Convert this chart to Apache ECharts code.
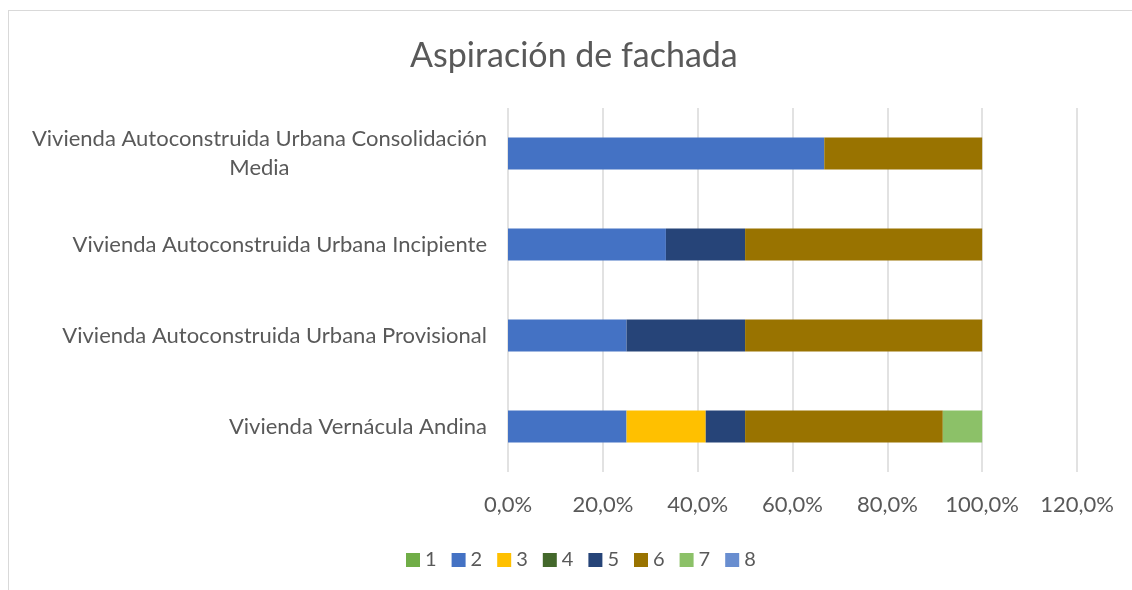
<!DOCTYPE html>
<html>
<head>
<meta charset="utf-8">
<script src="https://cdn.jsdelivr.net/npm/echarts@6/dist/echarts.min.js"></script>
<style>
  html, body { margin: 0; padding: 0; background: #fff; }
  #frame {
    position: absolute; left: 8px; top: 10px; width: 1140px; height: 600px;
    border-left: 1px solid #d9d9d9; border-top: 1px solid #d9d9d9;
  }
  #chart { position: absolute; left: 0; top: 0; width: 1132px; height: 590px; }
</style>
</head>
<body>
<div id="frame"></div>
<div id="chart"></div>
<script>
  // categorias (de abajo hacia arriba)
  const categories = [
    'Vivienda Vernácula Andina',
    'Vivienda Autoconstruida Urbana Provisional',
    'Vivienda Autoconstruida Urbana Incipiente',
    'Vivienda Autoconstruida Urbana Consolidación\nMedia'
  ];
  const seriesNames = ['1', '2', '3', '4', '5', '6', '7', '8'];
  // porcentajes por serie
  const s1 = [null, null, null, null];
  const s2 = [25.0, 25.0, 33.3, 66.7];
  const s3 = [16.7, null, null, null];
  const s4 = [null, null, null, null];
  const s5 = [8.3, 25.0, 16.7, null];
  const s6 = [41.7, 50.0, 50.0, 33.3];
  const s7 = [8.3, null, null, null];
  const s8 = [null, null, null, null];
  const xTicks = [0, 20, 40, 60, 80, 100, 120];

  const colors = ['#70ad47', '#4472c4', '#ffc000', '#43682b', '#264478', '#997300', '#8cc168', '#698ed0'];
  const allData = [s1, s2, s3, s4, s5, s6, s7, s8];

  const chart = echarts.init(document.getElementById('chart'));
  chart.setOption({
    animation: false,
    color: colors,
    textStyle: { fontFamily: 'Lato' },
    title: {
      text: 'Aspiración de fachada',
      left: 405,
      top: 34,
      textStyle: { fontSize: 34, fontWeight: 'normal', color: '#595959', fontFamily: 'Lato' }
    },
    legend: {
      top: 545,
      left: 401,
      itemWidth: 14,
      itemHeight: 14,
      itemGap: 15,
      icon: 'rect',
      data: seriesNames,
      textStyle: { fontSize: 20, color: '#595959' }
    },
    grid: { left: 508, right: 55, top: 108, bottom: 118 },
    xAxis: {
      type: 'value',
      min: xTicks[0],
      max: xTicks[xTicks.length - 1],
      interval: 20,
      axisLine: { show: false },
      axisTick: { show: false },
      splitLine: { lineStyle: { color: '#d9d9d9', width: 1.5 } },
      axisLabel: {
        fontSize: 22, color: '#595959', margin: 22,
        formatter: v => v.toFixed(1).replace('.', ',') + '%'
      }
    },
    yAxis: {
      type: 'category',
      data: categories,
      axisLine: { show: false },
      axisTick: { show: false },
      axisLabel: {
        margin: 21,
        fontSize: 22,
        color: '#595959',
        lineHeight: 29,
        formatter: v => v.split('\n').map(l => '{c|' + l + '}').join('\n'),
        rich: { c: { fontSize: 22, color: '#595959', align: 'center', lineHeight: 29, fontFamily: 'Lato' } }
      }
    },
    series: seriesNames.map((n, i) => ({
      name: n,
      type: 'bar',
      stack: 'total',
      barWidth: 32,
      data: allData[i]
    }))
  });
</script>
</body>
</html>
